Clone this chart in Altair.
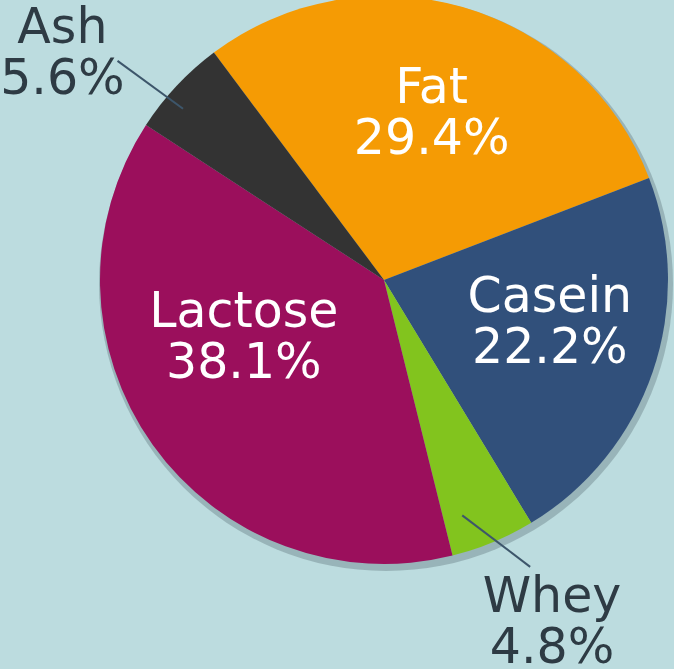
import math
import altair as alt
import pandas as pd

parts = ["Fat", "Casein", "Whey", "Lactose", "Ash"]
values = [29.4, 22.2, 4.8, 38.1, 5.6]
labels = ["Fat\n29.4%", "Casein\n22.2%", "Whey\n4.8%", "Lactose\n38.1%", "Ash\n5.6%"]
colors = ["#f59b04", "#31507b", "#82c41e", "#9b0f5c", "#333333"]

START = math.radians(-36.8)
TWO_PI = 2 * math.pi
W, H = 580, 560
CX, CY = W / 2, H / 2

df = pd.DataFrame({"part": parts, "value": values, "label": labels, "idx": list(range(len(parts)))})

theta_enc = alt.Theta("value:Q", stack=True, scale=alt.Scale(range=[START, START + TWO_PI]))
order_enc = alt.Order("idx:Q")

base = alt.Chart(df)

# subtle drop shadow behind the pie
shadow = base.mark_arc(radius=287, color="#1c2a33", opacity=0.22).encode(
    theta=alt.value(0), theta2=alt.value(TWO_PI),
    x=alt.value(CX + 2), y=alt.value(CY + 4)
).transform_filter("datum.idx == 0")

pie = base.mark_arc(radius=284, stroke=None).encode(
    theta=theta_enc,
    order=order_enc,
    color=alt.Color("part:N", scale=alt.Scale(domain=parts, range=colors), legend=None),
)

total = sum(values)


def mid_angle(name):
    i = parts.index(name)
    before = sum(values[:i])
    return START + TWO_PI * (before + values[i] / 2) / total


def leader(name, r1, r2, da1=0.0, da2=0.0):
    a1 = mid_angle(name) + math.radians(da1)
    a2 = mid_angle(name) + math.radians(da2)
    return base.mark_rule(color="#3d566b", strokeWidth=2).encode(
        x=alt.value(CX + r1 * math.sin(a1)), y=alt.value(CY - r1 * math.cos(a1)),
        x2=alt.value(CX + r2 * math.sin(a2)), y2=alt.value(CY - r2 * math.cos(a2)),
    ).transform_filter("datum.idx == 0")


def label_layer(name, r, dx, dy, color):
    return base.mark_text(
        radius=r, dx=dx, dy=dy, color=color, font="DejaVu Sans", fontSize=49,
        lineBreak="\n", lineHeight=51, align="center", baseline="middle",
    ).encode(
        theta=theta_enc,
        order=order_enc,
        text=alt.condition(f"datum.part == '{name}'", alt.Text("label:N"), alt.value("")),
    )


layers = [
    shadow,
    pie,
    leader("Ash", 264, 345, -2.7, -3.7),
    leader("Whey", 248, 322, 4.2, -4.4),
    label_layer("Fat", 172, 0, -27, "white"),
    label_layer("Casein", 171, 4, -38, "white"),
    label_layer("Lactose", 150, -18, -55, "white"),
    label_layer("Ash", 390, -37, 15, "#2e3b44"),
    label_layer("Whey", 380, 22, -34, "#2e3b44"),
]

chart = alt.layer(*layers).properties(
    width=W, height=H,
    autosize=alt.AutoSizeParams(type="none"),
    padding={"left": 94, "top": 0, "right": 0, "bottom": 109},
    background="#bcdcdf",
).configure_view(stroke=None)

chart.save("out.html", embed_options={"renderer": "svg", "actions": False})
